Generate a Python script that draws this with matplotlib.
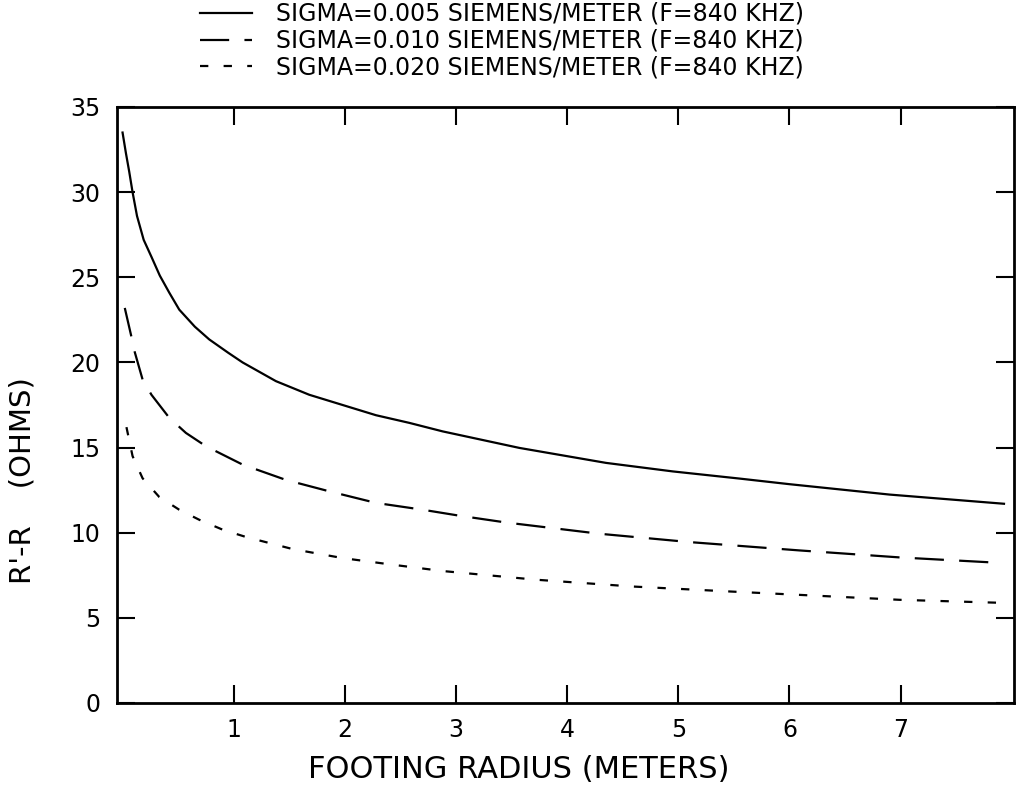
import matplotlib
matplotlib.use("Agg")
import matplotlib.pyplot as plt

plt.rcParams['font.family'] = ['DejaVu Sans']
plt.rcParams['lines.scale_dashes'] = False

# Data
x_s1 = [0.0, 0.03, 0.06, 0.09, 0.13, 0.19, 0.26, 0.335, 0.42, 0.51, 0.65, 0.78, 0.95, 1.08, 1.38,
        1.68, 1.98, 2.28, 2.58, 2.88, 3.57, 4.35, 4.95, 5.55, 6.0, 6.9, 7.93]
y_s1 = [33.5, 32.3, 31.2, 30.0, 28.6, 27.2, 26.2, 25.1, 24.1, 23.1, 22.1, 21.35, 20.57, 20.0, 18.9,
        18.1, 17.5, 16.9, 16.45, 15.95, 14.98, 14.1, 13.6, 13.18, 12.85, 12.24, 11.7]

x_s2 = [0.02, 0.08, 0.11, 0.18, 0.26, 0.42, 0.57, 0.75, 1.08, 1.47, 1.86, 2.28, 2.70, 3.03, 3.45,
        4.29, 5.1, 6.09, 6.99, 7.92]
y_s2 = [23.2, 21.5, 20.6, 19.0, 18.1, 16.75, 15.86, 15.08, 14.0, 13.1, 12.43, 11.75, 11.35, 11.0, 10.6,
        9.94, 9.45, 8.96, 8.55, 8.22]

x_s3 = [0.035, 0.09, 0.18, 0.33, 0.51, 0.69, 0.90, 1.11, 1.53, 1.98, 2.43, 2.88, 3.72, 4.59, 5.46,
        6.09, 6.99, 7.92]
y_s3 = [16.2, 14.5, 13.2, 12.1, 11.35, 10.76, 10.18, 9.75, 9.04, 8.51, 8.12, 7.75, 7.24, 6.84, 6.55,
        6.35, 6.06, 5.88]

labels = ["SIGMA=0.005 SIEMENS/METER (F=840 KHZ)",
          "SIGMA=0.010 SIEMENS/METER (F=840 KHZ)",
          "SIGMA=0.020 SIEMENS/METER (F=840 KHZ)"]

x_ticks = [1, 2, 3, 4, 5, 6, 7]
y_ticks = [0, 5, 10, 15, 20, 25, 30, 35]

fig = plt.figure(figsize=(10.21, 7.90), dpi=100)
ax = fig.add_axes([117/1021, 1-703/790, (1014-117)/1021, (703-107)/790])

lw = 1.6
ax.plot(x_s1, y_s1, color='black', lw=lw, linestyle='-', label=labels[0])
ax.plot(x_s2, y_s2, color='black', lw=lw, linestyle=(0, (21, 11)), label=labels[1])
ax.plot(x_s3, y_s3, color='black', lw=lw, linestyle=(0, (6, 11)), label=labels[2])

ax.set_xlim(-0.05, 8.02)
ax.set_ylim(0, 35)
ax.set_xticks(x_ticks)
ax.set_yticks(y_ticks)
ax.tick_params(direction='in', length=13, width=1.5, top=True, right=True,
               labelsize=17, pad=11)
ax.tick_params(axis='y', pad=12)
for sp in ax.spines.values():
    sp.set_linewidth(2.0)

ax.set_xlabel("FOOTING RADIUS (METERS)", fontsize=22, labelpad=9)
ax.xaxis.label.set_x((519 - 117) / 897)
fig.text(23/1021, 1-481/790, "R'-R    (OHMS)", rotation=90, fontsize=21,
         ha='center', va='center')

leg = fig.legend(loc='upper left', bbox_to_anchor=(200/1021, 1-2/790),
                 frameon=False, fontsize=17, handlelength=2.2,
                 handletextpad=1.0, labelspacing=0.12, borderpad=0,
                 borderaxespad=0)

fig.savefig("out.png", dpi=100)
